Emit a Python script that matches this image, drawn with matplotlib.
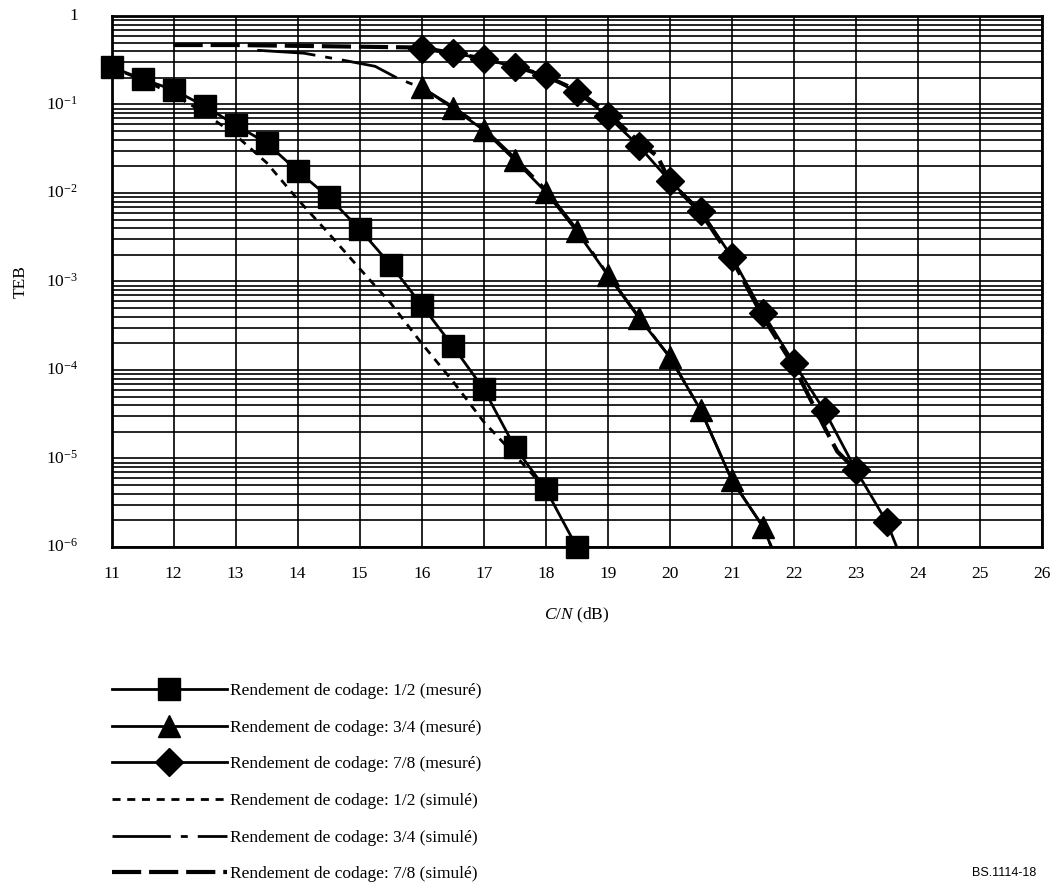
import numpy as np
import matplotlib
matplotlib.use('Agg')
import matplotlib.pyplot as plt
from matplotlib.lines import Line2D
from matplotlib.ticker import FixedLocator, NullFormatter

plt.rcParams['font.family'] = ['Liberation Serif', 'DejaVu Serif']
plt.rcParams['mathtext.fontset'] = 'custom'
plt.rcParams['mathtext.rm'] = 'Liberation Serif'
plt.rcParams['mathtext.it'] = 'Liberation Serif:italic'

# measured curves (markers)
cn_mes12 = [11, 11.5, 12, 12.5, 13, 13.5, 14, 14.5, 15, 15.5, 16, 16.5, 17, 17.5, 18, 18.5]
teb_mes12 = [0.265, 0.194, 0.146, 0.096, 0.0587, 0.0367, 0.0177, 0.009, 0.0039,
             0.00154, 5.4e-4, 1.87e-4, 6.1e-5, 1.35e-5, 4.5e-6, 1.0e-6]

cn_mes34 = [16, 16.5, 17, 17.5, 18, 18.5, 19, 19.5, 20, 20.5, 21, 21.5]
teb_mes34 = [0.158, 0.091, 0.0515, 0.0236, 0.0103, 3.7e-3, 1.18e-3, 3.9e-4,
             1.4e-4, 3.5e-5, 5.7e-6, 1.7e-6]

cn_mes78 = [16, 16.5, 17, 17.5, 18, 18.5, 19, 19.5, 20, 20.5, 21, 21.5, 22, 22.5, 23, 23.5]
teb_mes78 = [0.42, 0.38, 0.33, 0.265, 0.215, 0.138, 0.074, 0.034, 0.0137,
             6.3e-3, 1.9e-3, 4.4e-4, 1.2e-4, 3.4e-5, 7.4e-6, 1.9e-6]

# where the measured lines leave the frame (below 1e-6)
cn_tail34, teb_tail34 = 22.0, 2.5e-7
cn_tail78, teb_tail78 = 24.0, 2.5e-7

# simulated curves
cn_sim12 = [11, 11.5, 12, 12.5, 13, 13.5, 14, 14.5, 15, 15.5, 16, 16.5, 17, 17.5, 18]
teb_sim12 = [0.26, 0.19, 0.13, 0.08, 0.045, 0.022, 0.0085, 0.0035, 1.4e-3,
             5.7e-4, 2.0e-4, 7.5e-5, 2.6e-5, 1.1e-5, 4.5e-6]

cn_sim34 = [13.35, 14.1, 14.7, 15.25, 15.6, 15.8, 16.0, 16.5, 17.0, 17.5, 18.0,
            18.5, 19, 19.5, 20, 20.5, 21, 21.5, 22]
teb_sim34 = [0.41, 0.38, 0.32, 0.27, 0.20, 0.175, 0.155, 0.095, 0.054, 0.025,
             0.011, 3.9e-3, 1.2e-3, 4.0e-4, 1.4e-4, 3.5e-5, 5.7e-6, 1.7e-6, 2.5e-7]

cn_sim78 = [12, 13, 14, 15, 16, 16.5, 17, 17.5, 18, 18.5, 19, 19.5, 19.8, 20,
            20.5, 21, 21.5, 22, 22.5, 22.7, 23]
teb_sim78 = [0.47, 0.47, 0.46, 0.45, 0.44, 0.38, 0.33, 0.27, 0.21, 0.145, 0.08,
             0.038, 0.026, 0.0135, 6.0e-3, 1.8e-3, 4.0e-4, 1.1e-4, 2.2e-5,
             1.2e-5, 7.4e-6]

labels = ['Rendement de codage: 1/2 (mesuré)',
          'Rendement de codage: 3/4 (mesuré)',
          'Rendement de codage: 7/8 (mesuré)',
          'Rendement de codage: 1/2 (simulé)',
          'Rendement de codage: 3/4 (simulé)',
          'Rendement de codage: 7/8 (simulé)']
ytick_exp = [0, -1, -2, -3, -4, -5, -6]

fs = 12.5
fig = plt.figure(figsize=(10.63, 8.88), dpi=100)
W, H = 1063, 888
x0, x1, y0, y1 = 111.5, 1042, 16, 547
ax = fig.add_axes([x0 / W, 1 - y1 / H, (x1 - x0) / W, (y1 - y0) / H])
ax.set_yscale('log')
ax.set_xlim(11, 26)
ax.set_ylim(1e-6, 1)

# grid
ax.xaxis.set_major_locator(FixedLocator(np.arange(11, 27)))
minor = [m * 10.0 ** e for e in range(-6, 0) for m in range(1, 10)]
ax.yaxis.set_major_locator(FixedLocator(minor))
ax.yaxis.set_minor_locator(FixedLocator([]))
ax.yaxis.set_major_formatter(NullFormatter())
ax.grid(True, which='major', color='black', lw=1.2)
ax.tick_params(length=0)
ax.tick_params(axis='x', labelsize=fs, pad=14)
for s in ax.spines.values():
    s.set_linewidth(2)
ax.set_axisbelow(True)

lw = 2
ms = 16.5
sim12_ls = (0, (2.9, 2.4))
sim34_ls = (0, (21, 3.6, 2.5, 3.6))
sim78_ls = (0, (7, 1.9))

ax.plot(cn_sim12, teb_sim12, color='black', lw=lw, ls=sim12_ls)
ax.plot(cn_sim34, teb_sim34, color='black', lw=lw, ls=sim34_ls)
ax.plot(cn_sim78, teb_sim78, color='black', lw=3, ls=sim78_ls)

ax.plot(cn_mes12, teb_mes12, color='black', lw=lw)
ax.plot(cn_mes34 + [cn_tail34], teb_mes34 + [teb_tail34], color='black', lw=lw)
ax.plot(cn_mes78 + [cn_tail78], teb_mes78 + [teb_tail78], color='black', lw=lw)
ax.plot(cn_mes12, teb_mes12, ls='none', marker='s', ms=ms, color='black', clip_on=False, zorder=5)
ax.plot(cn_mes34, teb_mes34, ls='none', marker='^', ms=ms, color='black', clip_on=False, zorder=5)
ax.plot(cn_mes78, teb_mes78, ls='none', marker='D', ms=14.5, color='black', clip_on=False, zorder=5)

# y labels
ytr = ax.get_yaxis_transform()
for e in ytick_exp:
    if e == 0:
        ax.text(-0.036, 1.0, '1', transform=ytr, ha='right', va='center', fontsize=fs)
    else:
        ax.text(-0.036, 10.0 ** e, r'$10^{%d}$' % e, transform=ytr, ha='right',
                va='center', fontsize=fs)

ax.set_ylabel('TEB', fontsize=fs, labelpad=56)
ax.set_xlabel(r'$C/N$ (dB)', fontsize=fs, labelpad=17)

handles = [
    Line2D([], [], color='black', lw=lw, marker='s', ms=ms),
    Line2D([], [], color='black', lw=lw, marker='^', ms=ms),
    Line2D([], [], color='black', lw=lw, marker='D', ms=14.5),
    Line2D([], [], color='black', lw=lw, ls=sim12_ls),
    Line2D([], [], color='black', lw=lw, ls=sim34_ls),
    Line2D([], [], color='black', lw=3, ls=sim78_ls),
]
fig.legend(handles, labels, loc='upper left', bbox_to_anchor=(112 / W, 1 - 683 / H),
           frameon=False, fontsize=fs, handlelength=6.6, handletextpad=0.2,
           borderpad=0, borderaxespad=0, labelspacing=1.18)

fig.text(1036 / W, 1 - 873 / H, 'BS.1114-18', ha='right', va='center',
         fontsize=9, family='Liberation Sans')

fig.savefig('out.png', dpi=100)
